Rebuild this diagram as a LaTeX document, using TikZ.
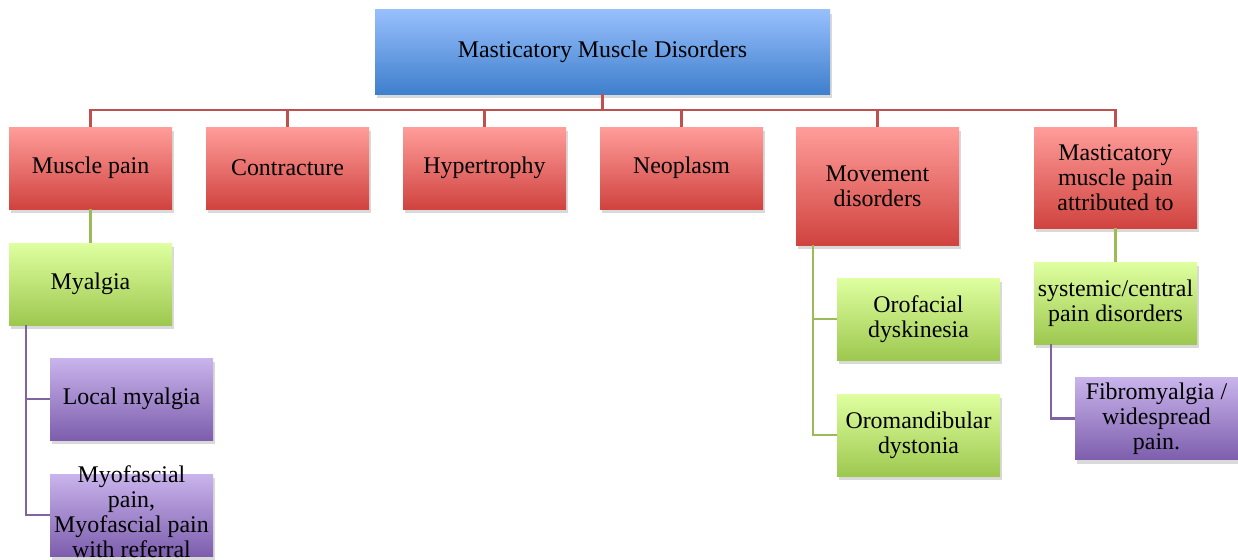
\documentclass[tikz,border=0pt]{standalone}
\usepackage{fontspec}
\setmainfont{Liberation Serif}
\usepackage{tikz}
\usetikzlibrary{shadows,positioning}
\definecolor{bluetop}{HTML}{97BFFD}
\definecolor{bluebot}{HTML}{3F7FCC}
\definecolor{redtop}{HTML}{FF9D9A}
\definecolor{redbot}{HTML}{D0433F}
\definecolor{greentop}{HTML}{DFFFA0}
\definecolor{greenbot}{HTML}{9DC84F}
\definecolor{purpletop}{HTML}{C9B4EC}
\definecolor{purplebot}{HTML}{7D5EAD}
\definecolor{linered}{HTML}{C0504D}
\definecolor{linegreen}{HTML}{9BBB59}
\definecolor{linepurple}{HTML}{8064A2}

\begin{document}
\begin{tikzpicture}[
  box/.style={rectangle,minimum width=3.26cm,minimum height=1.64cm,
    inner sep=1pt,align=center,font=\fontsize{13.6}{14.2}\selectfont,
    drop shadow={opacity=0.3,shadow xshift=1pt,shadow yshift=-2.5pt}},
  headbox/.style={box,top color=bluetop,bottom color=bluebot,
    minimum width=9.1cm,minimum height=1.68cm},
  redbox/.style={box,top color=redtop,bottom color=redbot},
  greenbox/.style={box,top color=greentop,bottom color=greenbot},
  purplebox/.style={box,top color=purpletop,bottom color=purplebot},
  redwire/.style={draw=linered,line width=1.3pt},
  greenwire/.style={draw=linegreen,line width=1.2pt},
  purplewire/.style={draw=linepurple,line width=1.2pt}
]
\useasboundingbox (0,0) rectangle (24.76,-11.2);

% top level
\node[headbox] (top) at (12.05,-1.04) {Masticatory Muscle Disorders};

% categories
\node[redbox] (pain) at (1.81,-3.36) {Muscle pain};
\node[redbox] (contr) at (5.75,-3.36) {Contracture};
\node[redbox] (hyper) at (9.69,-3.36) {Hypertrophy};
\node[redbox] (neo) at (13.63,-3.36) {Neoplasm};
\node[redbox,minimum height=2.36cm] (move) at (17.55,-3.72) {Movement\\ disorders};
\node[redbox,minimum height=2.02cm] (attr) at (22.31,-3.55) {Masticatory\\ muscle pain\\ attributed to};

% subtypes
\node[greenbox] (myal) at (1.81,-5.68) {Myalgia};
\node[purplebox] (local) at (2.63,-7.98) {Local myalgia};
\node[purplebox] (myof) at (2.63,-10.30) {\smash{\raisebox{-3.7pt}{\begin{tabular}{@{}c@{}}Myofascial\\ pain,\\ Myofascial pain\\ with referral\end{tabular}}}};
\node[greenbox] (orof) at (18.37,-6.38) {Orofacial\\ dyskinesia};
\node[greenbox] (orom) at (18.37,-8.70) {Oromandibular\\ dystonia};
\node[greenbox] (syst) at (22.31,-6.06) {systemic/central\\ pain disorders};
\node[purplebox] (fibro) at (23.13,-8.37) {Fibromyalgia /\\ widespread\\ pain.};

% connectors
\foreach \n in {pain,contr,hyper,neo,move,attr}
  \draw[redwire] (top.south) -- ++(0,-0.32) -| (\n.north);
\draw[greenwire] (pain) -- (myal);
\draw[greenwire] (attr) -- (syst);
\draw[purplewire] ([xshift=0.34cm]myal.south west) |- (local.west);
\draw[purplewire] ([xshift=0.34cm]myal.south west) |- (myof.west);
\draw[greenwire] ([xshift=0.34cm]move.south west) |- (orof.west);
\draw[greenwire] ([xshift=0.34cm]move.south west) |- (orom.west);
\draw[purplewire] ([xshift=0.34cm]syst.south west) |- (fibro.west);
\end{tikzpicture}
\end{document}
